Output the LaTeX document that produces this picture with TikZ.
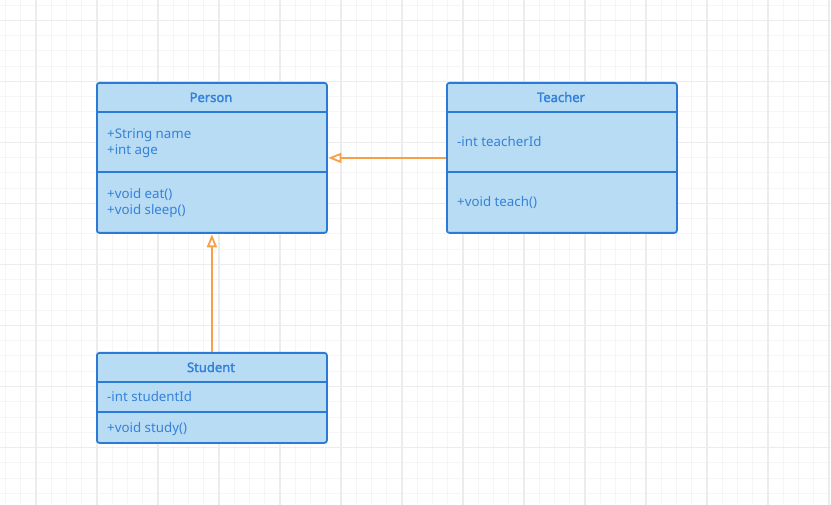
\documentclass[tikz,border=0pt]{standalone}
\usepackage{fontspec}
\setmainfont{Noto Sans}
\newfontfamily\hdrfont{Noto Sans}[FakeBold=2.2]
\usetikzlibrary{arrows.meta}
\definecolor{umlfill}{HTML}{B9DCF5}
\definecolor{umlline}{HTML}{2B7BD6}
\definecolor{umltext}{HTML}{3481D8}
\definecolor{gener}{HTML}{F7A048}
\definecolor{gminor}{HTML}{F5F5F5}
\definecolor{gmajor}{HTML}{ECECEC}
\begin{document}
\begin{tikzpicture}[x=1pt,y=-1pt,
  classbox/.style={draw=umlline, fill=umlfill, line width=1.8pt, rounded corners=2.5pt,
    minimum width=230pt, inner sep=0pt, anchor=north west},
  divider/.style={draw=umlline, line width=1.8pt},
  header/.style={text=umltext, font=\fontsize{13}{15}\hdrfont, anchor=base, inner sep=0pt},
  member/.style={text=umltext, font=\fontsize{13.3}{15}\selectfont, anchor=base west, inner sep=0pt},
  gen/.style={draw=gener, line width=1.8pt, -{Triangle[open, length=13pt, width=10pt, fill=white]}, shorten >=0.5pt},
  gridminor/.style={draw=gminor, line width=1pt},
  gridmajor/.style={draw=gmajor, line width=1.3pt}
]
\fill[white] (0,0) rectangle (831,505);
\useasboundingbox (0,0) rectangle (831,505);
% grid
\foreach \i in {0,...,54} {\draw[gridminor] ({5.5+15.25*\i},0) -- ({5.5+15.25*\i},505);}
\foreach \i in {0,...,32} {\draw[gridminor] (0,{5.25+15.25*\i}) -- (831,{5.25+15.25*\i});}
\foreach \i in {0,...,13} {\draw[gridmajor] ({36+61*\i},0) -- ({36+61*\i},505);}
\foreach \i in {0,...,7} {\draw[gridmajor] (0,{20.5+61*\i}) -- (831,{20.5+61*\i});}

% Person
\node[classbox, minimum height=150pt] (person) at (96,82) {};
\draw[divider] ([yshift=-30pt]person.north west) -- ([yshift=-30pt]person.north east);
\draw[divider] ([yshift=-90pt]person.north west) -- ([yshift=-90pt]person.north east);
\node[header] (personName) at (211,102) {Person};
\node[member] (personA1) at (107,139) {+String name};
\node[member] (personA2) at (107,155) {+int age};
\node[member] (personM1) at (107,199) {+void eat()};
\node[member] (personM2) at (107,215) {+void sleep()};

% Teacher
\node[classbox, minimum height=150pt] (teacher) at (446,82) {};
\draw[divider] ([yshift=-30pt]teacher.north west) -- ([yshift=-30pt]teacher.north east);
\draw[divider] ([yshift=-90pt]teacher.north west) -- ([yshift=-90pt]teacher.north east);
\node[header] (teacherName) at (561,102) {Teacher};
\node[member] (teacherA1) at (457,147) {-int teacherId};
\node[member] (teacherM1) at (457,207) {+void teach()};

% Student
\node[classbox, minimum height=90pt] (student) at (96,352) {};
\draw[divider] ([yshift=-30pt]student.north west) -- ([yshift=-30pt]student.north east);
\draw[divider] ([yshift=-60pt]student.north west) -- ([yshift=-60pt]student.north east);
\node[header] (studentName) at (211,372) {Student};
\node[member] (studentA1) at (107,402) {-int studentId};
\node[member] (studentM1) at (107,432) {+void study()};

% generalizations
\draw[gen] (teacher.west) -- (person.east);
\draw[gen] (student.north) -- (person.south);
\end{tikzpicture}
\end{document}
